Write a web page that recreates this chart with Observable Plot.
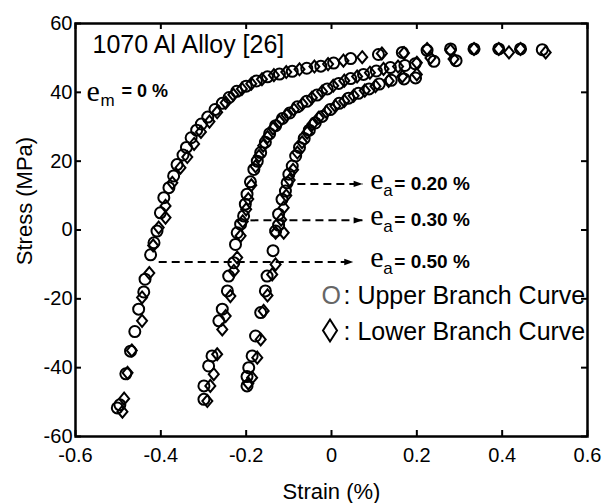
<!DOCTYPE html>
<html><head><meta charset="utf-8">
<script src="https://cdn.jsdelivr.net/npm/d3@7"></script>
<script src="https://cdn.jsdelivr.net/npm/@observablehq/plot@0.6"></script>
<style>body{margin:0;background:#fff}</style>
</head><body><div id="chart"></div>
<script>
const xTicks = [-0.6, -0.4, -0.2, 0, 0.2, 0.4, 0.6];
const yTicks = [-60, -40, -20, 0, 20, 40, 60];

// e_a = 0.50 %  upper branch (circles) and lower branch (diamonds), [strain %, stress MPa]
const upper050 = [[-0.502,-51.7],[-0.496,-50.8],[-0.482,-41.8],[-0.471,-35.2],[-0.461,-29.5],[-0.452,-23],[-0.440,-18],[-0.437,-14.3],[-0.424,-7.2],[-0.416,-3.7],[-0.409,-0.3],[-0.401,5],[-0.393,9.4],[-0.381,12.3],[-0.370,15.7],[-0.362,19],[-0.348,21.8],[-0.340,24],[-0.329,26.8],[-0.316,29],[-0.305,30.8],[-0.290,32.8],[-0.273,35],[-0.256,36.8],[-0.240,38.5],[-0.222,40.3],[-0.200,41.8],[-0.176,43.3],[-0.150,44.5],[-0.122,45.3],[-0.092,46.1],[-0.058,47],[-0.025,47.6],[0.005,48.5],[0.045,49.8],[0.110,51],[0.166,51.6],[0.224,52.2],[0.279,52.6],[0.334,52.6],[0.392,52.6],[0.443,52.6],[0.494,52.4]];
const lower050 = [[-0.490,-52.8],[-0.486,-49],[-0.478,-41.5],[-0.468,-35],[-0.444,-26.4],[-0.444,-19.6],[-0.427,-12.5],[-0.418,-4.5],[-0.405,0.7],[-0.389,3.6],[-0.389,7],[-0.373,13.7],[-0.354,18.1],[-0.338,21.2],[-0.322,25],[-0.306,28.5],[-0.286,31.5],[-0.268,34.2],[-0.248,37],[-0.230,39.3],[-0.210,41],[-0.188,42.5],[-0.163,43.8],[-0.135,45],[-0.106,45.9],[-0.075,46.7],[-0.040,47.5],[-0.008,48.2],[0.028,49.2],[0.072,50.2],[0.118,51.3],[0.170,51.4],[0.224,52.6],[0.279,52.2],[0.334,52.6],[0.392,52.6],[0.416,51.6],[0.443,52.6],[0.502,51.6]];

// e_a = 0.30 %
const upper030 = [[-0.299,-49.2],[-0.299,-45.3],[-0.288,-39.5],[-0.280,-36.6],[-0.264,-26.4],[-0.256,-23],[-0.244,-17.7],[-0.241,-13.4],[-0.229,-9.5],[-0.225,-4.2],[-0.221,-0.8],[-0.213,1.7],[-0.206,4.1],[-0.202,7.5],[-0.198,10.4],[-0.190,14],[-0.182,17.6],[-0.174,20],[-0.166,22.5],[-0.155,25.5],[-0.145,28],[-0.131,30.3],[-0.115,32.4],[-0.098,34],[-0.080,35.8],[-0.058,37.4],[-0.034,39.2],[-0.010,41],[0.017,42.6],[0.045,44],[0.075,45.2],[0.105,46.2],[0.138,47.2],[0.172,47.8],[0.196,48.3],[0.240,49],[0.292,49.2]];
const lower030 = [[-0.291,-49.7],[-0.284,-45.3],[-0.276,-41.9],[-0.268,-36.1],[-0.256,-28.9],[-0.248,-25],[-0.237,-19.2],[-0.229,-11.9],[-0.221,-8],[-0.213,-1.7],[-0.208,2.5],[-0.200,6],[-0.195,9],[-0.188,13],[-0.178,18.5],[-0.170,21.5],[-0.160,24.5],[-0.150,27],[-0.137,29.5],[-0.122,31.5],[-0.105,33.4],[-0.088,35],[-0.068,36.6],[-0.046,38.4],[-0.022,40.2],[0.004,41.9],[0.030,43.4],[0.060,44.6],[0.090,45.7],[0.122,46.8],[0.156,47.5],[0.200,48.6],[0.232,50],[0.286,49.7]];

// e_a = 0.20 %
const upper020 = [[-0.198,-45.3],[-0.198,-42.6],[-0.194,-40],[-0.186,-36.6],[-0.178,-30.8],[-0.166,-24],[-0.155,-17.7],[-0.151,-13.4],[-0.137,-6],[-0.131,-0.3],[-0.124,1.4],[-0.124,4.6],[-0.116,8.9],[-0.108,11.3],[-0.104,13.7],[-0.100,16.2],[-0.092,18.6],[-0.084,21.5],[-0.075,24],[-0.064,26.6],[-0.052,29],[-0.038,31.1],[-0.022,33],[-0.003,35],[0.018,36.8],[0.040,38.3],[0.063,39.7],[0.088,41],[0.112,42.4],[0.140,43.5],[0.170,43.9],[0.197,44.2]];
const lower020 = [[-0.195,-44.6],[-0.186,-42.9],[-0.174,-37.1],[-0.166,-31.8],[-0.159,-23.5],[-0.150,-19],[-0.139,-12.9],[-0.131,-10],[-0.131,-0.8],[-0.112,-0.8],[-0.118,3],[-0.112,6.5],[-0.106,10],[-0.098,14.5],[-0.090,17.5],[-0.080,22.5],[-0.069,25.5],[-0.057,28.3],[-0.045,30.7],[-0.030,32.6],[-0.012,34.3],[0.009,36],[0.030,37.5],[0.052,39],[0.078,40.5],[0.103,41.8],[0.134,43.3],[0.166,44.6],[0.200,45.2]];

// annotation arrows: strain start/end and stress level, label
const arrowStart = [-0.08, -0.19, -0.405];
const arrowEnd = [0.073, 0.073, 0.051];
const arrowStress = [13.4, 2.8, -9.3];
const arrowLabels = ["= 0.20 %", "= 0.30 %", "= 0.50 %"];
const labelStrain = 0.091;

const titleText = "1070 Al Alloy [26]";
const meanLabel = "= 0 %";
const legendLabels = [": Upper Branch Curve", ": Lower Branch Curve"];

const upperPts = [...upper050, ...upper030, ...upper020].map(([x, y]) => ({x, y}));
const lowerPts = [...lower050, ...lower030, ...lower020].map(([x, y]) => ({x, y}));
const arrows = arrowStart.map((x1, i) => ({x1, x2: arrowEnd[i], y: arrowStress[i], label: arrowLabels[i]}));

const diamond = {
  draw(ctx, size) {
    const r = Math.sqrt(size / Math.PI);
    const w = r, h = r * 1.2;
    ctx.moveTo(0, -h); ctx.lineTo(w, 0); ctx.lineTo(0, h); ctx.lineTo(-w, 0); ctx.closePath();
  }
};
const legendDiamond = {
  draw(ctx) {
    ctx.moveTo(0, -11); ctx.lineTo(7, 0); ctx.lineTo(0, 11); ctx.lineTo(-7, 0); ctx.closePath();
  }
};
const head = {
  draw(ctx) {
    ctx.moveTo(0, 0); ctx.lineTo(-9, -3.2); ctx.lineTo(-9, 3.2); ctx.closePath();
  }
};

const W = 606, H = 503, mT = 23, mR = 19, mB = 67, mL = 75;
const frameW = W - mL - mR, frameH = H - mT - mB, tickLen = 6;
const sans = "'Liberation Sans', Arial, sans-serif";
const serif = "'Liberation Serif', 'Times New Roman', serif";
const tickStyle = {stroke: "black", strokeWidth: 2};

const chart = Plot.plot({
  width: W, height: H,
  marginTop: mT, marginRight: mR, marginBottom: mB, marginLeft: mL,
  x: {domain: [-0.6, 0.6]},
  y: {domain: [-60, 60]},
  style: {fontFamily: sans, fontSize: "20px", color: "black", background: "white"},
  marks: [
    Plot.axisX({anchor: "bottom", ticks: xTicks, tickSize: 0, tickPadding: 11, tickFormat: d => String(d), label: null, fontSize: 20}),
    Plot.axisY({anchor: "left", ticks: yTicks, tickSize: 0, tickPadding: 3, tickFormat: d => String(d), label: null, fontSize: 20}),
    Plot.tickX(xTicks, {x: d => d, insetTop: frameH - tickLen, ...tickStyle}),
    Plot.tickX(xTicks, {x: d => d, insetBottom: frameH - tickLen, ...tickStyle}),
    Plot.tickY(yTicks, {y: d => d, insetRight: frameW - tickLen, ...tickStyle}),
    Plot.tickY(yTicks, {y: d => d, insetLeft: frameW - tickLen, ...tickStyle}),
    Plot.frame({stroke: "black", strokeWidth: 2.5}),
    Plot.dot(upperPts, {x: "x", y: "y", r: 5.5, stroke: "black", strokeWidth: 2, fill: "none"}),
    Plot.dot(lowerPts, {x: "x", y: "y", r: 5, symbol: diamond, stroke: "black", strokeWidth: 2, fill: "none"}),
    Plot.link(arrows, {x1: "x1", x2: "x2", y1: "y", y2: "y", stroke: "black", strokeWidth: 2, strokeDasharray: "8,5"}),
    Plot.dot(arrows, {x: "x2", y: "y", symbol: head, fill: "black", stroke: "none"}),
    Plot.text(arrows, {x: () => labelStrain, y: "y", text: () => "e", fontFamily: serif, fontSize: 30, textAnchor: "start", dy: -4.5}),
    Plot.text(arrows, {x: () => labelStrain, y: "y", text: () => "a", fontSize: 17, textAnchor: "start", dx: 13, dy: 6.5}),
    Plot.text(arrows, {x: () => labelStrain, y: "y", text: "label", fontSize: 19, fontWeight: "bold", textAnchor: "start", dx: 24, dy: 0}),
    Plot.text([titleText], {text: d => d, frameAnchor: "top-left", dx: 17, dy: 12, textAnchor: "start", lineAnchor: "top", fontSize: 25}),
    Plot.text(["e"], {text: d => d, frameAnchor: "top-left", dx: 11, dy: 67.4, textAnchor: "start", lineAnchor: "middle", fontFamily: serif, fontSize: 30}),
    Plot.text(["m"], {text: d => d, frameAnchor: "top-left", dx: 25, dy: 76.6, textAnchor: "start", lineAnchor: "middle", fontSize: 17}),
    Plot.text([meanLabel], {text: d => d, frameAnchor: "top-left", dx: 46, dy: 68.2, textAnchor: "start", lineAnchor: "middle", fontSize: 18, fontWeight: "bold"}),
    Plot.text(["O"], {text: d => d, frameAnchor: "top-left", dx: 246, dy: 272, textAnchor: "start", lineAnchor: "middle", fontSize: 25, fill: "#666"}),
    Plot.dot([0], {frameAnchor: "top-left", dx: 254.5, dy: 307, symbol: legendDiamond, stroke: "black", strokeWidth: 2, fill: "none"}),
    Plot.text([legendLabels[0]], {text: d => d, frameAnchor: "top-left", dx: 268, dy: 272, textAnchor: "start", lineAnchor: "middle", fontSize: 25}),
    Plot.text([legendLabels[1]], {text: d => d, frameAnchor: "top-left", dx: 268, dy: 308, textAnchor: "start", lineAnchor: "middle", fontSize: 25}),
    Plot.text(["Strain (%)"], {text: d => d, frameAnchor: "bottom", dy: 55, textAnchor: "middle", lineAnchor: "middle", fontSize: 22}),
    Plot.text(["Stress (MPa)"], {text: d => d, frameAnchor: "left", rotate: -90, dx: -51, dy: -29, textAnchor: "middle", lineAnchor: "middle", fontSize: 22})
  ]
});
document.getElementById("chart").appendChild(chart);
</script>
</body></html>
